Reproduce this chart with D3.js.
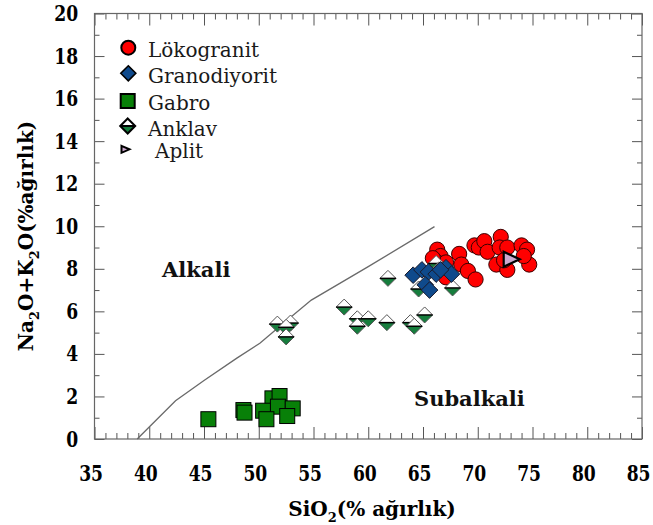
<!DOCTYPE html>
<html>
<head>
<meta charset="utf-8">
<script src="https://cdn.jsdelivr.net/npm/d3@7"></script>
<style>
  html, body { margin: 0; padding: 0; background: #fff; }
  svg { display: block; }
</style>
</head>
<body>
<svg id="chart" width="653" height="525"></svg>
<script>
// TAS (total alkali vs silica) diagram, Irvine & Baragar alkaline / subalkaline divide

// [SiO2, Na2O+K2O] in wt%
const lokogranit = [
  [66.3, 8.9], [66.6, 8.6], [66.3, 8.3], [67.1, 8.3], [65.9, 8.5], [67.1, 7.6],
  [68.3, 8.7], [68.5, 8.2], [69.1, 7.9], [69.8, 7.5], [69.7, 9.1], [70.1, 9.0],
  [70.6, 9.3], [70.9, 8.8], [72.1, 9.5], [72.0, 9.0], [72.7, 9.0], [71.7, 8.2],
  [72.7, 7.95], [74.0, 9.1], [74.5, 8.9], [74.7, 8.2], [74.2, 8.6], [72.4, 8.4]
];
const granodiyorit = [
  [64.1, 7.7], [64.9, 7.95], [65.5, 7.85], [65.2, 7.25], [65.6, 7.0],
  [66.2, 7.75], [67.1, 8.05], [67.6, 7.75], [66.6, 7.95]
];
const gabro = [
  [45.4, 0.93], [48.6, 1.36], [48.7, 1.24], [51.25, 1.91], [51.9, 2.02],
  [50.4, 1.33], [51.75, 1.52], [53.1, 1.44], [50.7, 0.93], [52.6, 1.08]
];
const anklav = [
  [51.7, 5.4], [52.9, 5.45], [52.5, 5.25], [52.5, 4.8],
  [57.8, 6.2], [59.0, 5.65], [59.0, 5.3], [60.0, 5.65], [61.7, 5.47],
  [63.85, 5.47], [64.2, 5.3], [65.15, 5.83], [61.8, 7.55],
  [64.6, 7.05], [66.2, 8.25], [66.45, 7.95], [67.7, 7.1]
];
const aplit = [[73.1, 8.45]];

// alkaline / subalkaline boundary
const boundary = [
  [38.9, 0], [42.4, 1.8], [45, 2.75], [48, 3.8], [50.1, 4.5],
  [52.5, 5.55], [54.8, 6.53], [60, 8.1], [66.05, 9.98]
];

const xTicks = [35, 40, 45, 50, 55, 60, 65, 70, 75, 80, 85];
const yTicks = [0, 2, 4, 6, 8, 10, 12, 14, 16, 18, 20];

const legendItems = [
  { key: "lokogranit", label: "Lökogranit" },
  { key: "granodiyorit", label: "Granodiyorit" },
  { key: "gabro", label: "Gabro" },
  { key: "anklav", label: "Anklav" },
  { key: "aplit", label: "Aplit" }
];

const SERIF = "'DejaVu Serif', 'Liberation Serif', serif";

const svg = d3.select("#chart");
const x = d3.scaleLinear().domain([35, 85]).range([94.5, 642]);
const y = d3.scaleLinear().domain([0, 20]).range([439, 13.5]);

const RED = "#ff0000", BLUE = "#0f4a8c", GREEN = "#088008", AGREEN = "#167d3d", LAV = "#cda8cf";

// ---------- axes (ticks point inward on all four sides) ----------
const minorX = d3.range(35, 86).filter(v => v % 5 !== 0);
const minorY = d3.range(0, 21).filter(v => v % 2 !== 0);
const tickCol = "#555";

function styleAxis(g) {
  g.select(".domain").remove();
  g.selectAll(".tick line").attr("stroke", tickCol).attr("stroke-width", 1);
}

// narrow bold numerals for the tick labels
function styleTickText(sel) {
  sel.style("font-family", SERIF).style("font-weight", "bold")
    .style("font-size", "22px").attr("fill", "#000")
    .attr("transform", "scale(0.78,1)");
}

svg.append("g").attr("transform", `translate(0,${y(0)})`)
  .call(d3.axisBottom(x).tickValues(minorX).tickSizeInner(-6).tickSizeOuter(0).tickFormat(""))
  .call(styleAxis);
const xAxis = svg.append("g").attr("transform", `translate(0,${y(0)})`)
  .call(d3.axisBottom(x).tickValues(xTicks).tickSizeInner(-12).tickSizeOuter(0).tickPadding(26))
  .call(styleAxis);
xAxis.selectAll(".tick text").call(styleTickText).attr("dx", -5);

svg.append("g").attr("transform", `translate(0,${y(20)})`)
  .call(d3.axisTop(x).tickValues(minorX).tickSizeInner(-6).tickSizeOuter(0).tickFormat(""))
  .call(styleAxis);
svg.append("g").attr("transform", `translate(0,${y(20)})`)
  .call(d3.axisTop(x).tickValues(xTicks).tickSizeInner(-12).tickSizeOuter(0).tickFormat(""))
  .call(styleAxis);

svg.append("g").attr("transform", `translate(${x(35)},0)`)
  .call(d3.axisLeft(y).tickValues(minorY).tickSizeInner(-5).tickSizeOuter(0).tickFormat(""))
  .call(styleAxis);
const yAxis = svg.append("g").attr("transform", `translate(${x(35)},0)`)
  .call(d3.axisLeft(y).tickValues(yTicks).tickSizeInner(-10).tickSizeOuter(0).tickPadding(21))
  .call(styleAxis);
yAxis.selectAll(".tick text").call(styleTickText);

svg.append("g").attr("transform", `translate(${x(85)},0)`)
  .call(d3.axisRight(y).tickValues(minorY).tickSizeInner(-5).tickSizeOuter(0).tickFormat(""))
  .call(styleAxis);
svg.append("g").attr("transform", `translate(${x(85)},0)`)
  .call(d3.axisRight(y).tickValues(yTicks).tickSizeInner(-10).tickSizeOuter(0).tickFormat(""))
  .call(styleAxis);

// frame
svg.append("rect")
  .attr("x", x(35)).attr("y", y(20))
  .attr("width", x(85) - x(35)).attr("height", y(0) - y(20))
  .attr("fill", "none").attr("stroke", "#666").attr("stroke-width", 1.2);

// ---------- axis titles ----------
const xt = svg.append("text")
  .attr("x", 372).attr("y", 516).attr("text-anchor", "middle")
  .style("font-family", SERIF).style("font-weight", "bold").style("font-size", "20px")
  .attr("fill", "#000");
xt.append("tspan").text("SiO");
xt.append("tspan").style("font-size", "13px").attr("dy", 6).text("2");
xt.append("tspan").attr("dy", -6).text("(% ağırlık)");

const yt = svg.append("text")
  .attr("transform", "translate(33,236) rotate(-90)")
  .attr("text-anchor", "middle")
  .style("font-family", SERIF).style("font-weight", "bold").style("font-size", "20px")
  .attr("fill", "#000");
yt.append("tspan").text("Na");
yt.append("tspan").style("font-size", "13px").attr("dy", 6).text("2");
yt.append("tspan").attr("dy", -6).text("O+K");
yt.append("tspan").style("font-size", "13px").attr("dy", 6).text("2");
yt.append("tspan").attr("dy", -6).text("O(%ağırlık)");

// ---------- boundary line ----------
svg.append("path")
  .datum(boundary)
  .attr("d", d3.line().x(d => x(d[0])).y(d => y(d[1])))
  .attr("fill", "none").attr("stroke", "#6a6a6a").attr("stroke-width", 1.3);

// ---------- field labels ----------
svg.append("text").attr("x", 162).attr("y", 276.5).style("font-family", SERIF)
  .style("font-weight", "bold").style("font-size", "21px").attr("fill", "#111").text("Alkali");
svg.append("text").attr("x", 414).attr("y", 405.5).style("font-family", SERIF)
  .style("font-weight", "bold").style("font-size", "21px").attr("fill", "#111").text("Subalkali");

// ---------- marker drawing ----------
function diamondPath(h) { return `M0,${-h}L${h},0L0,${h}L${-h},0Z`; }

function drawMarker(g, key, legend) {
  const sw = legend ? 2 : 1;
  if (key === "lokogranit") {
    g.append("circle").attr("r", legend ? 7 : 7.6)
      .attr("fill", RED).attr("stroke", legend ? "#000" : "#3a0000").attr("stroke-width", sw);
  } else if (key === "granodiyorit") {
    g.append("path").attr("d", diamondPath(legend ? 7.5 : 8.3))
      .attr("fill", BLUE).attr("stroke", legend ? "#000" : "#1a1a2a").attr("stroke-width", legend ? 1.6 : 1);
  } else if (key === "gabro") {
    const s = legend ? 14 : 15;
    g.append("rect").attr("x", -s / 2).attr("y", -s / 2).attr("width", s).attr("height", s)
      .attr("fill", GREEN).attr("stroke", "#000").attr("stroke-width", sw);
  } else if (key === "anklav") {
    const h = legend ? 7.5 : 8;
    g.append("path").attr("d", `M${-h},0L0,${-h}L${h},0Z`).attr("fill", "#fff");
    g.append("path").attr("d", `M${-h},0L0,${h}L${h},0Z`).attr("fill", AGREEN);
    g.append("path").attr("d", diamondPath(h)).attr("fill", "none")
      .attr("stroke", legend ? "#000" : "#555").attr("stroke-width", legend ? 2 : 1);
    g.append("line").attr("x1", -h).attr("x2", h)
      .attr("stroke", "#000").attr("stroke-width", legend ? 2 : 1.5);
  } else if (key === "aplit") {
    const w = legend ? 8 : 16, hh = legend ? 7 : 15;
    g.append("path").attr("d", `M${-w / 2},${-hh / 2}L${w / 2},0L${-w / 2},${hh / 2}Z`)
      .attr("fill", LAV).attr("stroke", "#000").attr("stroke-width", legend ? 2 : 2.2)
      .attr("stroke-linejoin", "miter");
  }
}

function drawSeries(data, key) {
  const g = svg.append("g");
  g.selectAll("g").data(data).join("g")
    .attr("transform", d => `translate(${x(d[0])},${y(d[1])})`)
    .each(function () { drawMarker(d3.select(this), key, false); });
}

drawSeries(gabro, "gabro");
drawSeries(lokogranit, "lokogranit");
drawSeries(anklav, "anklav");
drawSeries(granodiyorit, "granodiyorit");
drawSeries(aplit, "aplit");

// ---------- legend ----------
const legendRows = [
  { mx: 128.3, my: 47.7, tx: 148, ty: 56.7 },
  { mx: 128.3, my: 73.3, tx: 148, ty: 83.3 },
  { mx: 127.7, my: 101, tx: 148, ty: 110 },
  { mx: 127.7, my: 126, tx: 148, ty: 135.5 },
  { mx: 125.5, my: 149.3, tx: 155, ty: 158.3 }
];
legendItems.forEach((item, i) => {
  const r = legendRows[i];
  const g = svg.append("g").attr("transform", `translate(${r.mx},${r.my})`);
  drawMarker(g, item.key, true);
  svg.append("text").attr("x", r.tx).attr("y", r.ty).style("font-family", SERIF)
    .style("font-size", "20px").attr("fill", "#1a1a1a").text(item.label);
});
</script>
</body>
</html>
